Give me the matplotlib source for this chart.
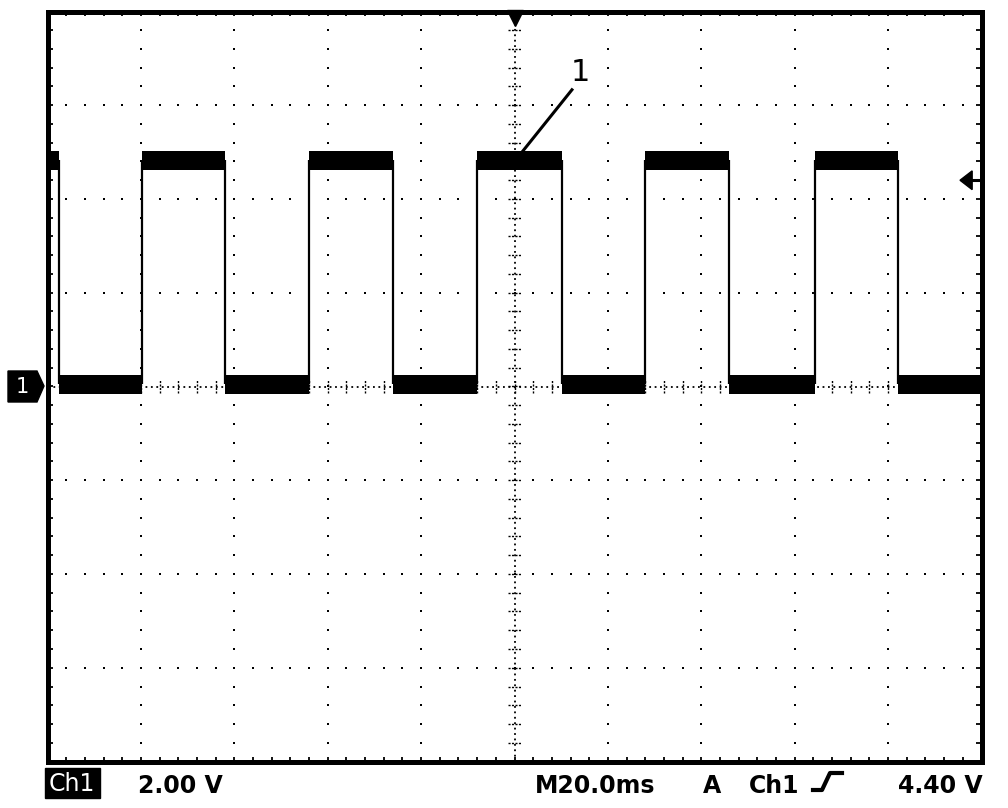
import matplotlib
matplotlib.use('Agg')
import matplotlib.pyplot as plt
import numpy as np
from matplotlib.patches import Polygon, Rectangle

# trace (time in ms, level in volts)
edge_times = [2.4, 20.2, 38.0, 56.0, 74.0, 92.0, 110.2, 128.0, 146.0, 164.3, 182.1]
first_level_high = True
high_band = (4.62, 5.02)
low_band = (-0.15, 0.25)
high_level = 4.83
low_level = 0.05

trigger_level = 4.40
probe_label = '1'
probe_point = (101.6, 5.0)
probe_text = (114.0, 6.7)

ch_label = 'Ch1'
volts_label = '2.00 V'
time_label = 'M20.0ms'
trig_src = ['A', 'Ch1']
trig_level_label = '4.40 V'

W, H = 1008, 808


def px(x, y):
    # image pixel -> figure fraction
    return x / W, 1 - y / H


fig = plt.figure(figsize=(W / 100, H / 100), dpi=100)
ax = fig.add_axes([47.5 / W, 46.5 / H, 934 / W, 750 / H])
ax.set_xlim(0, 200)
ax.set_ylim(-8, 8)
ax.set_xticks([])
ax.set_yticks([])
for s in ax.spines.values():
    s.set_linewidth(3.6)
    s.set_color('black')

# graticule
dot = dict(marker='s', ms=1.6, ls='none', color='black', mew=0)
minor_y = np.arange(-8, 8.01, 0.4)
minor_x = np.arange(0, 200.01, 4)
for gx in [20, 40, 60, 80, 120, 140, 160, 180]:
    ax.plot(np.full_like(minor_y, gx), minor_y, **dot)
for gy in [-6, -4, -2, 2, 4, 6]:
    ax.plot(minor_x, np.full_like(minor_x, gy), **dot)

ax.axvline(100, color='black', lw=1.3, ls=(0, (1, 2)))
ax.axhline(0, color='black', lw=1.3, ls=(0, (1, 2)))
ax.hlines(minor_y, 98.6, 101.4, color='black', lw=1.0, ls=(0, (1.5, 1)))
ax.vlines(minor_x, -0.13, 0.13, color='black', lw=1.0, ls=(0, (1.5, 1)))

# ticks along the frame
ax.vlines(minor_x, -8, -7.9, color='black', lw=1.3)
ax.vlines(minor_x, 7.9, 8, color='black', lw=1.3)
ax.hlines(minor_y, 0, 1.1, color='black', lw=1.3)
ax.hlines(minor_y, 198.9, 200, color='black', lw=1.3)

# square wave
bounds = [0] + edge_times + [200]
level_high = first_level_high
for a, b in zip(bounds[:-1], bounds[1:]):
    band = high_band if level_high else low_band
    ax.fill_between([a, b], band[0], band[1], color='black', lw=0)
    level_high = not level_high
ax.vlines(edge_times, low_level, high_level, color='black', lw=1.6)

# probe label
ax.plot([probe_point[0], 112.3], [probe_point[1], 6.33], color='black', lw=2.2)
ax.text(probe_text[0], probe_text[1], probe_label, fontsize=22,
        ha='center', va='center', color='black')

# trigger position marker (top) and level marker (right)
ax.plot([100], [7.87], marker='v', ms=12, color='black', clip_on=False)
ax.add_patch(Polygon([(195.4, trigger_level), (198.0, trigger_level + 0.2),
                      (198.0, trigger_level - 0.2)], closed=True,
                     color='black', clip_on=False))
ax.plot([197.5, 200], [trigger_level, trigger_level], color='black', lw=2.2,
        clip_on=False)

# channel ground marker on the left
gnd = [px(8, 371), px(37, 371), px(44, 386), px(37, 402), px(8, 402)]
fig.patches.append(Polygon(gnd, closed=True, color='black',
                           transform=fig.transFigure, figure=fig))
fig.text(*px(22, 387), '1', color='white', fontsize=15, ha='center', va='center')

# status line
fig.patches.append(Rectangle(px(45, 798), 55 / W, 30 / H, color='black',
                             transform=fig.transFigure, figure=fig))
fig.text(*px(72, 784), ch_label, color='white', fontsize=17,
         ha='center', va='center')
bold = dict(fontsize=17, fontweight='bold', color='black', va='baseline')
fig.text(*px(138, 793), volts_label, ha='left', **bold)
fig.text(*px(535, 793), time_label, ha='left', **bold)
fig.text(*px(712, 793), trig_src[0], ha='center', **bold)
fig.text(*px(774, 793), trig_src[1], ha='center', **bold)
fig.text(*px(983, 793), trig_level_label, ha='right', **bold)

# rising-edge symbol
xs, ys = zip(px(813, 790), px(822, 790), px(830, 773), px(842, 773))
fig.lines.append(plt.Line2D(xs, ys, color='black', lw=3,
                            transform=fig.transFigure, figure=fig))

fig.savefig('out.png', dpi=100)
